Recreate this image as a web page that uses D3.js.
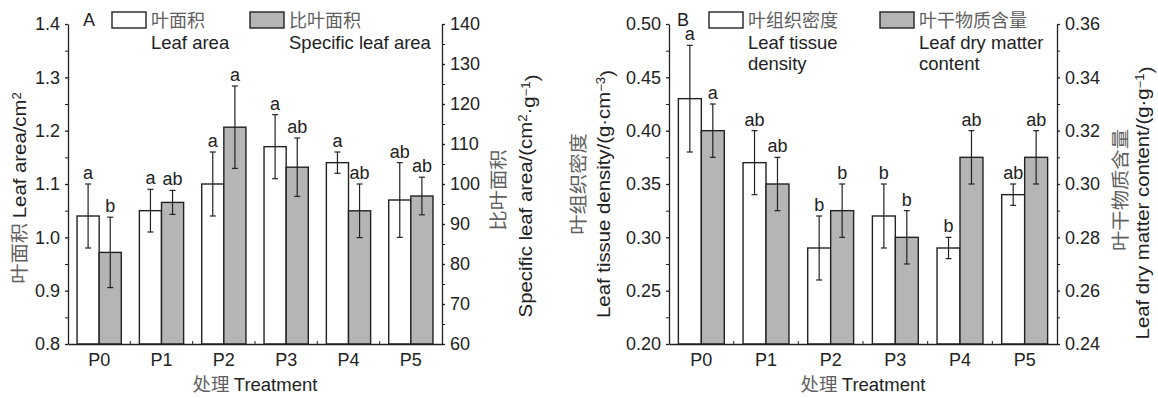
<!DOCTYPE html>
<html>
<head>
<meta charset="utf-8">
<script src="https://cdn.jsdelivr.net/npm/d3@7"></script>
<style>
  body { margin: 0; background: #fff; }
  text { font-family: "Liberation Sans", Arial, sans-serif; fill: #222; }
  .cn { font-family: "Noto Sans CJK SC", sans-serif; fill: #606060; }
</style>
</head>
<body>
<svg width="1158" height="398"></svg>
<script>
var treatments = ["P0", "P1", "P2", "P3", "P4", "P5"];

// panel A
var leafArea    = [1.04, 1.05, 1.10, 1.17, 1.14, 1.07];
var leafAreaErr = [0.06, 0.04, 0.06, 0.06, 0.02, 0.07];
var leafAreaSig = ["a", "a", "a", "a", "a", "ab"];
var sla    = [82.9, 95.4, 114.2, 104.2, 93.3, 97.0];
var slaErr = [8.8, 3.0, 10.3, 7.3, 6.7, 4.7];
var slaSig = ["b", "ab", "a", "ab", "ab", "ab"];
var ticksA_left  = [0.8, 0.9, 1.0, 1.1, 1.2, 1.3, 1.4];
var ticksA_right = [60, 70, 80, 90, 100, 110, 120, 130, 140];

// panel B
var ltd    = [0.43, 0.37, 0.29, 0.32, 0.29, 0.34];
var ltdErr = [0.05, 0.03, 0.03, 0.03, 0.01, 0.01];
var ltdSig = ["a", "ab", "b", "b", "b", "ab"];
var ldmc    = [0.32, 0.30, 0.29, 0.28, 0.31, 0.31];
var ldmcErr = [0.01, 0.01, 0.01, 0.01, 0.01, 0.01];
var ldmcSig = ["a", "ab", "b", "b", "ab", "ab"];
var ticksB_left  = [0.20, 0.25, 0.30, 0.35, 0.40, 0.45, 0.50];
var ticksB_right = [0.24, 0.26, 0.28, 0.30, 0.32, 0.34, 0.36];

var svg = d3.select("svg");
var top_ = 24, bottom = 344;

function drawPanel(p) {
  var g = svg.append("g");

  var x = d3.scaleBand().domain(treatments).range([p.x0, p.x1])
      .paddingInner(0.29).paddingOuter(0.145);
  var sub = d3.scaleBand().domain(["w", "g"]).range([0, x.bandwidth()]);
  var yL = d3.scaleLinear().domain(p.leftDomain).range([bottom, top_]);
  var yR = d3.scaleLinear().domain(p.rightDomain).range([bottom, top_]);

  var series = [
    {key: "w", vals: p.leftVals, err: p.leftErr, sig: p.leftSig, y: yL, fill: "#fff"},
    {key: "g", vals: p.rightVals, err: p.rightErr, sig: p.rightSig, y: yR, fill: "#b5b5b5"}
  ];

  series.forEach(function(s) {
    var grp = g.selectAll(null).data(treatments).enter().append("g");
    grp.append("rect")
        .attr("x", function(d) { return x(d) + sub(s.key); })
        .attr("y", function(d, i) { return s.y(s.vals[i]); })
        .attr("width", sub.bandwidth())
        .attr("height", function(d, i) { return bottom - s.y(s.vals[i]); })
        .attr("fill", s.fill)
        .attr("stroke", "#222")
        .attr("stroke-width", 1.4);
    var cx = function(d) { return x(d) + sub(s.key) + sub.bandwidth() / 2; };
    grp.append("line")
        .attr("x1", cx).attr("x2", cx)
        .attr("y1", function(d, i) { return s.y(s.vals[i] + s.err[i]); })
        .attr("y2", function(d, i) { return s.y(s.vals[i] - s.err[i]); })
        .attr("stroke", "#222").attr("stroke-width", 1.2);
    [1, -1].forEach(function(sign) {
      grp.append("line")
          .attr("x1", function(d) { return cx(d) - 3; })
          .attr("x2", function(d) { return cx(d) + 3; })
          .attr("y1", function(d, i) { return s.y(s.vals[i] + sign * s.err[i]); })
          .attr("y2", function(d, i) { return s.y(s.vals[i] + sign * s.err[i]); })
          .attr("stroke", "#222").attr("stroke-width", 1.2);
    });
    grp.append("text")
        .attr("x", cx)
        .attr("y", function(d, i) { return s.y(s.vals[i] + s.err[i]) - 5; })
        .attr("text-anchor", "middle")
        .style("font-size", "18px")
        .text(function(d, i) { return s.sig[i]; });
  });

  // axes
  function minor(t) {
    var out = [];
    for (var i = 0; i < t.length - 1; i++) out.push((t[i] + t[i + 1]) / 2);
    return out;
  }
  var axL = g.append("g").attr("transform", "translate(" + p.x0 + ",0)")
      .call(d3.axisLeft(yL).tickValues(p.leftTicks).tickSize(3).tickSizeOuter(0).tickPadding(5)
        .tickFormat(d3.format(p.leftFmt)));
  g.append("g").attr("transform", "translate(" + p.x0 + ",0)")
      .call(d3.axisLeft(yL).tickValues(minor(p.leftTicks)).tickSize(3).tickFormat(""))
      .select(".domain").remove();
  var axR = g.append("g").attr("transform", "translate(" + p.x1 + ",0)")
      .call(d3.axisRight(yR).tickValues(p.rightTicks).tickSize(3).tickSizeOuter(0).tickPadding(5)
        .tickFormat(d3.format(p.rightFmt)));
  g.append("g").attr("transform", "translate(" + p.x1 + ",0)")
      .call(d3.axisRight(yR).tickValues(minor(p.rightTicks)).tickSize(3).tickFormat(""))
      .select(".domain").remove();
  var axB = g.append("g").attr("transform", "translate(0," + bottom + ")")
      .call(d3.axisBottom(x).tickSize(0).tickSizeOuter(0).tickPadding(9));
  // small inward ticks between groups
  g.selectAll(null).data(treatments.slice(1)).enter().append("line")
      .attr("x1", function(d) { return x(d) - x.step() * x.paddingInner() / 2; })
      .attr("x2", function(d) { return x(d) - x.step() * x.paddingInner() / 2; })
      .attr("y1", bottom).attr("y2", bottom - 3)
      .attr("stroke", "#222");
  [axL, axR, axB].forEach(function(a) {
    a.selectAll("text").style("font-size", "18px").attr("fill", "#222")
        .style("font-family", "Liberation Sans, Arial, sans-serif");
    a.selectAll("path, line").attr("stroke", "#222").attr("stroke-width", 1.3);
  });
  g.selectAll(".tick line").attr("stroke", "#222");

  // x title
  var xt = g.append("text").attr("x", (p.x0 + p.x1) / 2).attr("y", 391)
      .attr("text-anchor", "middle").style("font-size", "18.5px");
  xt.append("tspan").attr("class", "cn").text("处理 ");
  xt.append("tspan").text("Treatment");

  // panel letter + legend
  g.append("text").attr("x", p.letterX).attr("y", 26).style("font-size", "18px").text(p.letter);
  p.legend.forEach(function(l, i) {
    g.append("rect").attr("x", l.x).attr("y", 12).attr("width", 34).attr("height", 16)
        .attr("fill", i === 0 ? "#fff" : "#b5b5b5").attr("stroke", "#222").attr("stroke-width", 1.4);
    g.append("text").attr("class", "cn").attr("x", l.x + 39).attr("y", 27)
        .style("font-size", "18px").text(l.cn);
    l.en.forEach(function(line, j) {
      g.append("text").attr("x", l.x + 39).attr("y", 49 + j * 21)
          .style("font-size", "18.5px").text(line);
    });
  });

  // y titles (stretched a little along the text, like the original)
  p.yTitles.forEach(function(t) {
    var tx = g.append("text")
        .attr("transform", "translate(" + t.x + "," + t.y + ") rotate(-90) scale(1.1,1)")
        .attr("text-anchor", "middle").attr("dy", "0.35em")
        .style("font-size", "18.5px");
    t.parts.forEach(function(part) {
      var ts = tx.append("tspan").text(part.t);
      if (part.cn) ts.attr("class", "cn");
      if (part.sup) ts.attr("dy", "-0.45em").style("font-size", "12px");
      if (part.after) ts.attr("dy", "0.45em");
    });
  });
}

drawPanel({
  x0: 68, x1: 442,
  leftDomain: [0.8, 1.4], rightDomain: [60, 140],
  leftVals: leafArea, leftErr: leafAreaErr, leftSig: leafAreaSig,
  rightVals: sla, rightErr: slaErr, rightSig: slaSig,
  leftTicks: ticksA_left, rightTicks: ticksA_right,
  leftFmt: ".1f", rightFmt: "d",
  letter: "A", letterX: 83,
  legend: [
    {x: 112, cn: "叶面积", en: ["Leaf area"]},
    {x: 250, cn: "比叶面积", en: ["Specific leaf area"]}
  ],
  yTitles: [
    {x: 20, y: 188, parts: [{t: "叶面积  ", cn: true}, {t: "Leaf area/cm"}, {t: "2", sup: true}]},
    {x: 499, y: 190, parts: [{t: "比叶面积", cn: true}]},
    {x: 526, y: 196, parts: [{t: "Specific leaf area/(cm"}, {t: "2", sup: true}, {t: "·g", after: true},
      {t: "−1", sup: true}, {t: ")", after: true}]}
  ]
});

drawPanel({
  x0: 669, x1: 1057,
  leftDomain: [0.20, 0.50], rightDomain: [0.24, 0.36],
  leftVals: ltd, leftErr: ltdErr, leftSig: ltdSig,
  rightVals: ldmc, rightErr: ldmcErr, rightSig: ldmcSig,
  leftTicks: ticksB_left, rightTicks: ticksB_right,
  leftFmt: ".2f", rightFmt: ".2f",
  letter: "B", letterX: 677,
  legend: [
    {x: 709, cn: "叶组织密度", en: ["Leaf tissue", "density"]},
    {x: 880, cn: "叶干物质含量", en: ["Leaf dry matter", "content"]}
  ],
  yTitles: [
    {x: 579, y: 184, parts: [{t: "叶组织密度", cn: true}]},
    {x: 604, y: 194, parts: [{t: "Leaf tissue density/(g·cm"}, {t: "−3", sup: true}, {t: ")", after: true}]},
    {x: 1121, y: 190, parts: [{t: "叶干物质含量", cn: true}]},
    {x: 1143, y: 203, parts: [{t: "Leaf dry matter content/(g·g"}, {t: "−1", sup: true}, {t: ")", after: true}]}
  ]
});
</script>
</body>
</html>
